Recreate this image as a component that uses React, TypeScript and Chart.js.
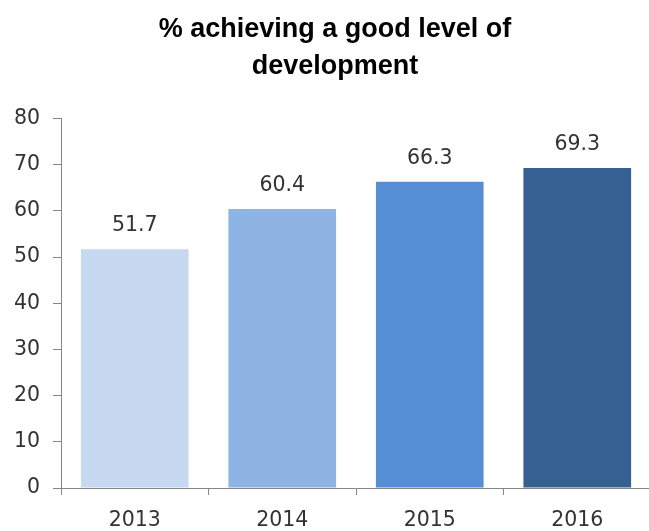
import React, { useEffect, useRef } from "react";
import { Chart, registerables } from "chart.js";

Chart.register(...registerables);

const titleLines = ["% achieving a good level of", "development"];
const categories = ["2013", "2014", "2015", "2016"];
const values = [51.7, 60.4, 66.3, 69.3];
const barColors = ["#C6D9F1", "#8EB4E3", "#558ED5", "#376092"];
const yMin = 0;
const yMax = 80;
const yStep = 10;

const numFont = "'DejaVu Sans', sans-serif";
const titleFont = "'Liberation Sans', Arial, sans-serif";
const textColor = "#333333";
const axisColor = "#868686";

const valueLabels = {
  id: "valueLabels",
  afterDatasetsDraw(chart: any) {
    const ctx = chart.ctx;
    const meta = chart.getDatasetMeta(0);
    ctx.save();
    ctx.font = `20.5px ${numFont}`;
    ctx.fillStyle = textColor;
    ctx.textAlign = "center";
    ctx.textBaseline = "alphabetic";
    meta.data.forEach((bar: any, i: number) => {
      ctx.fillText(values[i].toFixed(1), bar.x, bar.y - 18);
    });
    ctx.restore();
  },
};

export default function App() {
  const ref = useRef<HTMLCanvasElement | null>(null);

  useEffect(() => {
    if (!ref.current) return;
    const chart = new Chart(ref.current, {
      type: "bar",
      data: {
        labels: categories,
        datasets: [
          {
            data: values,
            backgroundColor: barColors,
            borderWidth: 0,
            barPercentage: 0.73,
            categoryPercentage: 1,
          },
        ],
      },
      options: {
        animation: false,
        responsive: true,
        maintainAspectRatio: false,
        layout: { padding: 0 },
        plugins: {
          legend: { display: false },
          tooltip: { enabled: false },
          title: {
            display: true,
            text: titleLines,
            color: "#000000",
            font: { family: titleFont, size: 27, weight: "bold", lineHeight: 37 / 27 },
            padding: { top: 11, bottom: 33.5 },
          },
        },
        scales: {
          x: {
            offset: true,
            grid: {
              display: true,
              offset: true,
              drawOnChartArea: false,
              drawTicks: true,
              tickLength: 7,
              color: axisColor,
            },
            border: { display: true, color: axisColor, width: 1 },
            ticks: {
              color: textColor,
              padding: 13,
              font: { family: numFont, size: 20.5 },
              maxRotation: 0,
            },
            afterFit(scale: any) {
              scale.height = 43;
            },
          },
          y: {
            min: yMin,
            max: yMax,
            grid: {
              display: true,
              drawOnChartArea: false,
              drawTicks: true,
              tickLength: 8,
              color: axisColor,
            },
            border: { display: true, color: axisColor, width: 1 },
            ticks: {
              stepSize: yStep,
              color: textColor,
              padding: 13,
              font: { family: numFont, size: 20.5 },
            },
            afterFit(scale: any) {
              scale.width = 61;
            },
          },
          yRight: {
            type: "linear",
            position: "right",
            min: yMin,
            max: yMax,
            grid: { display: false },
            border: { display: false },
            ticks: { display: false },
            afterFit(scale: any) {
              scale.width = 19;
            },
          },
        },
      },
      plugins: [valueLabels],
    });
    return () => chart.destroy();
  }, []);

  return (
    <div
      style={{
        position: "fixed",
        left: 0,
        top: 0,
        width: 649,
        height: 531,
        overflow: "hidden",
        background: "#ffffff",
      }}
    >
      <div style={{ position: "relative", width: 670, height: 531 }}>
        <canvas ref={ref} />
      </div>
    </div>
  );
}
